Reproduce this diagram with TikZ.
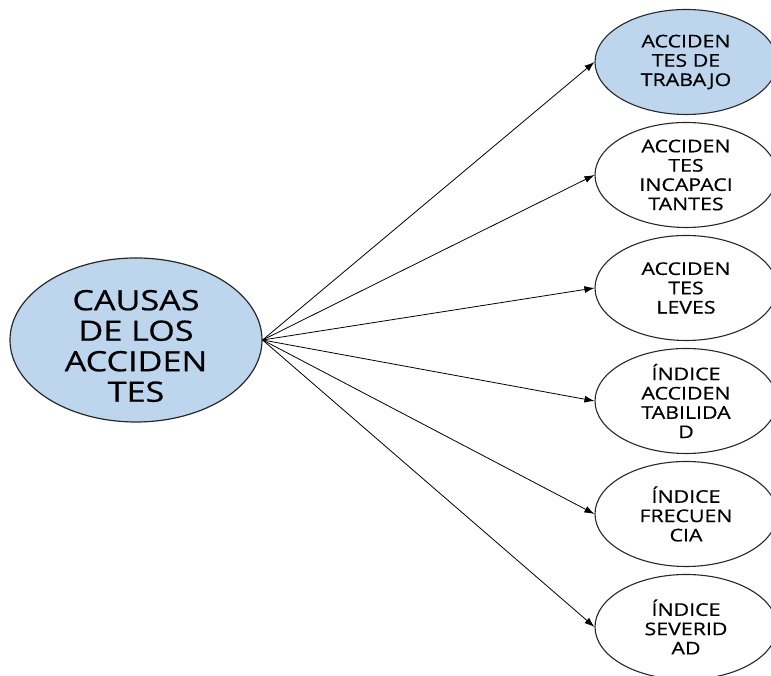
\documentclass[tikz,border=0pt]{standalone}
\usepackage{fontspec}
\setmainfont{Open Sans}[FakeStretch=1.22,FakeBold=0.6]
\usetikzlibrary{shapes.geometric,arrows.meta}
\definecolor{causefill}{RGB}{189,214,238}
\definecolor{edge}{RGB}{40,40,40}
\tikzset{
  cause/.style={ellipse, draw=edge, line width=1.2pt, fill=causefill,
    minimum width=252pt, minimum height=164pt, inner sep=0pt},
  causetext/.style={align=center, inner sep=0pt,
    font={\fontsize{28}{30.5}\selectfont}},
  effect/.style={ellipse, draw=edge, line width=1.1pt, fill=white,
    minimum width=182pt, minimum height=105pt, inner sep=0pt, align=center,
    font={\fontsize{17.5}{19.3}\selectfont}},
  link/.style={draw=black, line width=0.8pt, -{Latex[length=10pt,width=7pt]}}
}
\begin{document}
\begin{tikzpicture}[x=1pt,y=1pt]
  \useasboundingbox (0,0) rectangle (771,676);
  \clip (0,0) rectangle (771,676);
  % main cause, its text set a little below the centre
  \node[cause] (src) at (136,336) {};
  \node[causetext] (srctext) at (136,330) {CAUSAS\\DE LOS\\ACCIDEN\\TES};
  % consequences
  \node[effect, fill=causefill] (t1) at (686,614) {ACCIDEN\\TES DE\\TRABAJO};
  \node[effect] (t2) at (686,501) {ACCIDEN\\TES\\INCAPACI\\TANTES};
  \node[effect] (t3) at (686,388) {ACCIDEN\\TES\\LEVES};
  \node[effect] (t4) at (686,275) {ÍNDICE\\ACCIDEN\\TABILIDA\\D};
  \node[effect] (t5) at (686,162) {ÍNDICE\\FRECUEN\\CIA};
  \node[effect] (t6) at (686,49) {ÍNDICE\\SEVERID\\AD};
  \foreach \t in {t1,t2,t3,t4,t5,t6}
    \draw[link] (src.east) -- (\t.west);
\end{tikzpicture}
\end{document}
